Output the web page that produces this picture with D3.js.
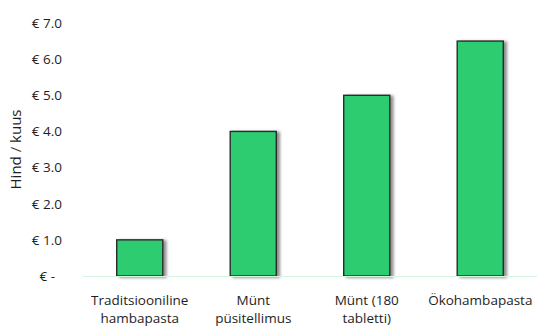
<!DOCTYPE html>
<html>
<head>
<meta charset="utf-8">
<script src="https://cdn.jsdelivr.net/npm/d3@7"></script>
<style>
  html, body { margin: 0; padding: 0; background: #fff; }
  svg { display: block; }
  text { font-family: "Open Sans", "Noto Sans", sans-serif; fill: #1e1e1e; }
</style>
</head>
<body>
<svg id="chart" width="537" height="326"></svg>
<script>
// Monthly price of each toothpaste option
const categories = [
  ["Traditsiooniline", "hambapasta"],
  ["Münt", "püsitellimus"],
  ["Münt (180", "tabletti)"],
  ["Ökohambapasta"]
];
const prices = [1.0, 4.0, 5.0, 6.5];
const yTicks = [0, 1, 2, 3, 4, 5, 6, 7];
const yTitle = "Hind / kuus";

const svg = d3.select("#chart");
const margin = { left: 83, right: 0, top: 23, bottom: 50 };
const W = 537, H = 326;

const x = d3.scaleBand()
  .domain(d3.range(prices.length))
  .range([margin.left, W - margin.right])
  .paddingInner(0.594)
  .paddingOuter(0.297);

const y = d3.scaleLinear()
  .domain([0, 7])
  .range([H - margin.bottom, margin.top]);

// soft drop shadow behind the bars
const defs = svg.append("defs");
const f = defs.append("filter").attr("id", "shadow")
  .attr("x", "-20%").attr("y", "-20%").attr("width", "150%").attr("height", "150%");
f.append("feDropShadow")
  .attr("dx", 3).attr("dy", 1).attr("stdDeviation", 1.6)
  .attr("flood-color", "#000").attr("flood-opacity", 0.45);

// y axis labels in accounting style
const fmt = v => v === 0 ? "€ -" : "€ " + v.toFixed(1);
const yAxis = d3.axisLeft(y).tickValues(yTicks).tickSize(0).tickPadding(0).tickFormat(fmt);
const gy = svg.append("g").attr("transform", "translate(62,0)").call(yAxis);
gy.select(".domain").remove();
gy.selectAll("text")
  .style("font-size", "13.5px")
  .style("font-family", '"Open Sans", sans-serif')
  .attr("fill", "#1e1e1e")
  .attr("dx", d => d === 0 ? -7 : 0);

svg.append("text")
  .attr("transform", `translate(16,${(y(0) + y(7)) / 2}) rotate(-90)`)
  .attr("text-anchor", "middle")
  .attr("dy", "0.35em")
  .style("font-size", "15px")
  .text(yTitle);

// bars
svg.append("g").selectAll("rect")
  .data(prices)
  .join("rect")
  .attr("x", (d, i) => x(i))
  .attr("y", d => y(d))
  .attr("width", x.bandwidth())
  .attr("height", d => y(0) - y(d))
  .attr("fill", "#2ecc71")
  .attr("stroke", "#2b2b2b")
  .attr("stroke-width", 1.4)
  .attr("filter", "url(#shadow)");

// baseline
svg.append("line")
  .attr("x1", margin.left).attr("x2", W)
  .attr("y1", y(0) + 0.5).attr("y2", y(0) + 0.5)
  .attr("stroke", "#d8f3e0").attr("stroke-width", 1.2);

// category labels
const xAxis = d3.axisBottom(x).tickSize(0).tickFormat("");
const gx = svg.append("g").attr("transform", `translate(0,${y(0)})`).call(xAxis);
gx.select(".domain").remove();
gx.selectAll(".tick").each(function (i) {
  const t = d3.select(this).append("text")
    .attr("text-anchor", "middle")
    .style("font-size", "13.5px")
    .attr("fill", "#1e1e1e");
  categories[i].forEach((line, k) => {
    t.append("tspan").attr("x", 0).attr("y", 29 + k * 18).text(line);
  });
});
</script>
</body>
</html>
